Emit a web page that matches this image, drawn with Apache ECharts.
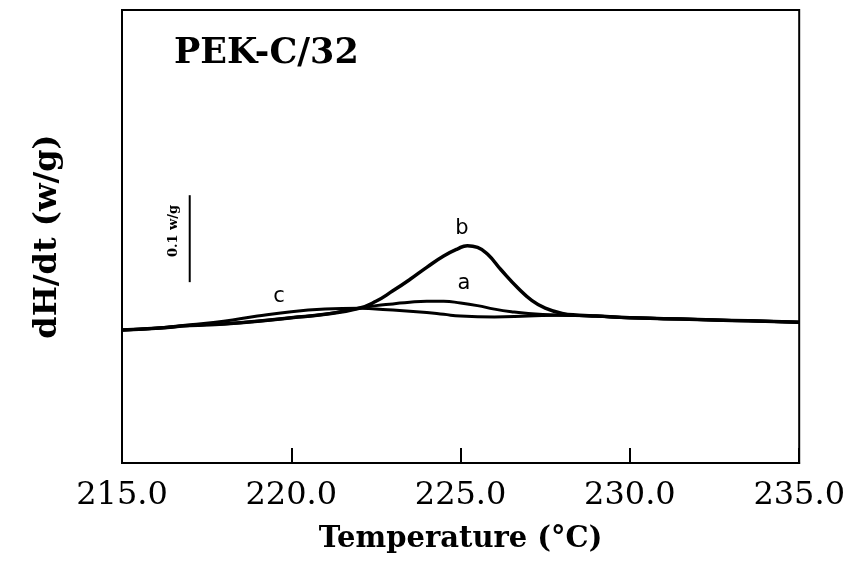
<!DOCTYPE html>
<html>
<head>
<meta charset="utf-8">
<script src="https://cdn.jsdelivr.net/npm/echarts@6/dist/echarts.min.js"></script>
<style>
  html, body { margin: 0; padding: 0; background: #fff; }
  #root { width: 848px; height: 567px; }
</style>
</head>
<body>
<div id="root"></div>
<script>
// curve data (temperature in °C, dH/dt relative to start, w/g)
const curveA = [
  [215, 0], [216, 0.002], [217, 0.005], [218, 0.007], [219, 0.010], [220, 0.014],
  [221, 0.018], [222, 0.025], [222.5, 0.028], [223, 0.030], [223.5, 0.032], [224, 0.033],
  [224.5, 0.033], [225, 0.031], [225.5, 0.028], [226, 0.024], [226.5, 0.021], [227, 0.019],
  [228, 0.017], [229, 0.016], [230, 0.014], [231, 0.013], [232, 0.012], [233, 0.011],
  [234, 0.010], [235, 0.009]
];
const curveB = [
  [215, 0], [216, 0.002], [217, 0.005], [218, 0.007], [219, 0.010], [220, 0.014],
  [221, 0.018], [222, 0.025], [222.5, 0.033], [223, 0.045], [223.5, 0.058], [224, 0.072],
  [224.5, 0.085], [224.9, 0.093], [225.2, 0.097], [225.5, 0.095], [225.8, 0.087],
  [226.2, 0.069], [226.7, 0.048], [227.1, 0.034], [227.5, 0.025], [228, 0.019],
  [228.5, 0.017], [229, 0.016], [230, 0.014], [231, 0.013], [232, 0.012], [233, 0.011],
  [234, 0.010], [235, 0.009]
];
const curveC = [
  [215, 0], [216, 0.002], [217, 0.006], [218, 0.010], [219, 0.016], [220, 0.021],
  [221, 0.024], [222, 0.025], [222.5, 0.024], [223, 0.023], [224, 0.020], [224.5, 0.018],
  [225, 0.016], [226, 0.015], [227, 0.016], [228, 0.017], [229, 0.016], [230, 0.014],
  [231, 0.013], [232, 0.012], [233, 0.011], [234, 0.010], [235, 0.009]
];
// 0.1 w/g scale bar
const scaleBar = [[217, 0.055], [217, 0.155]];

const xTicks = [215, 220, 225, 230, 235];

let myChart = echarts.init(document.getElementById('root'));

const serif = 'DejaVu Serif';

let option = {
  animation: false,
  backgroundColor: '#fff',
  grid: {
    left: 122, right: 43, top: 10, bottom: 104,
    show: true, borderColor: '#000', borderWidth: 2
  },
  xAxis: {
    type: 'value',
    min: 215, max: 235, interval: 5,
    axisLine: { show: true, onZero: false, lineStyle: { color: '#000', width: 2 } },
    axisTick: { show: true, inside: true, length: 15, lineStyle: { color: '#000', width: 2 } },
    splitLine: { show: false },
    axisLabel: {
      color: '#000', fontFamily: serif, fontSize: 32, margin: 17,
      formatter: v => xTicks.includes(v) ? v.toFixed(1) : ''
    },
    name: 'Temperature (°C)',
    nameLocation: 'middle',
    nameGap: 62,
    nameTextStyle: { color: '#000', fontFamily: serif, fontWeight: 'bold', fontSize: 29 }
  },
  yAxis: {
    type: 'value',
    min: -0.153, max: 0.368,
    axisLine: { show: true, onZero: false, lineStyle: { color: '#000', width: 2 } },
    axisTick: { show: false },
    axisLabel: { show: false },
    splitLine: { show: false },
    name: 'dH/dt (w/g)',
    nameLocation: 'middle',
    nameGap: 58,
    nameTextStyle: { color: '#000', fontFamily: serif, fontWeight: 'bold', fontSize: 32 }
  },
  graphic: [
    {
      type: 'text', left: 174, top: 36,
      style: { text: 'PEK-C/32', fill: '#000', font: 'bold 35px "DejaVu Serif"' }
    },
    {
      type: 'text', x: 462, y: 229, style: { text: 'b', fill: '#000', font: '21px "DejaVu Sans"', align: 'center', verticalAlign: 'middle' }
    },
    {
      type: 'text', x: 464, y: 284, style: { text: 'a', fill: '#000', font: '21px "DejaVu Sans"', align: 'center', verticalAlign: 'middle' }
    },
    {
      type: 'text', x: 279, y: 297, style: { text: 'c', fill: '#000', font: '21px "DejaVu Sans"', align: 'center', verticalAlign: 'middle' }
    },
    {
      type: 'text', x: 174, y: 231, rotation: Math.PI / 2,
      style: { text: '0.1 w/g', fill: '#000', font: 'bold 13px "DejaVu Serif"', align: 'center', verticalAlign: 'middle' }
    }
  ],
  series: [
    { name: 'a', type: 'line', data: curveA, smooth: 0.5, showSymbol: false, lineStyle: { color: '#000', width: 3 } },
    { name: 'b', type: 'line', data: curveB, smooth: 0.5, showSymbol: false, lineStyle: { color: '#000', width: 3.5 } },
    { name: 'c', type: 'line', data: curveC, smooth: 0.5, showSymbol: false, lineStyle: { color: '#000', width: 3 } },
    { name: 'scale', type: 'line', data: scaleBar, showSymbol: false, lineStyle: { color: '#000', width: 2 } }
  ]
};

myChart.setOption(option);
</script>
</body>
</html>
